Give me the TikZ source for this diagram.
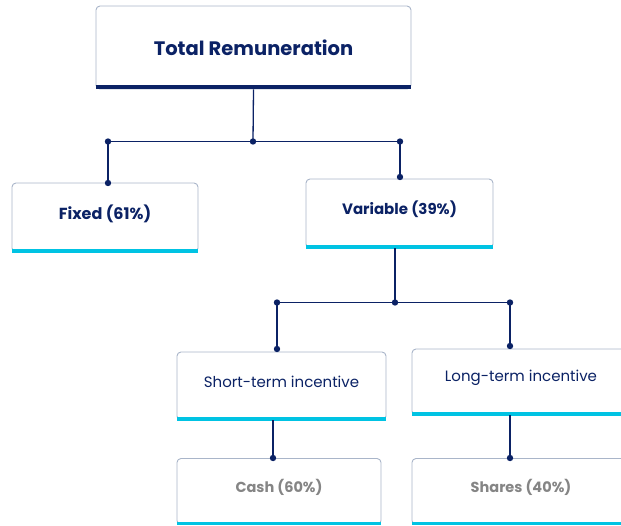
\documentclass[tikz,border=0pt]{standalone}
\usepackage{fontspec}
\setmainfont{Poppins}
\definecolor{navy}{HTML}{0B2265}
\definecolor{barcyan}{HTML}{00C3E3}
\definecolor{edgegray}{HTML}{A9B5C9}
\definecolor{mutedtxt}{HTML}{858585}
\tikzset{
  box/.style={draw=edgegray,line width=0.9pt,rounded corners=4pt,fill=white,inner sep=0pt},
  topbar/.style={navy,line width=4pt},
  cyanbar/.style={barcyan,line width=3.2pt},
  link/.style={navy,line width=1.3pt},
  dot/.style={navy},
  lbl/.style={text=navy,font=\fontsize{15}{18}\selectfont},
  lblb/.style={text=navy,font=\fontsize{15}{18}\selectfont\bfseries},
  lblg/.style={text=mutedtxt,font=\fontsize{14.5}{17}\selectfont\bfseries},
}
\begin{document}
\begin{tikzpicture}[x=1pt,y=-1pt]
  \path[use as bounding box,clip] (0,0) rectangle (621,525);

  % boxes
  \node[box,minimum width=315pt,minimum height=83pt] (total) at (253.5,47.5) {};
  \node[box,minimum width=186pt,minimum height=69pt] (fixed) at (105,217.5) {};
  \node[box,minimum width=187pt,minimum height=69pt] (var) at (399.5,213.5) {};
  \node[box,minimum width=209pt,minimum height=68pt] (short) at (281.5,386) {};
  \node[box,minimum width=218pt,minimum height=66pt] (long) at (521,382) {};
  \node[box,minimum width=204pt,minimum height=66pt] (cash) at (279,491.5) {};
  \node[box,minimum width=218pt,minimum height=66pt] (shares) at (521,491.5) {};

  % bottom bars
  \draw[topbar] ([yshift=2pt]total.south west)--([yshift=2pt]total.south east);
  \foreach \b in {fixed,var,short,long,cash,shares}
    \draw[cyanbar] ([yshift=1.5pt]\b.south west)--([yshift=1.5pt]\b.south east);

  % texts
  \node[lblb,font=\fontsize{19.5}{23}\selectfont\bfseries] (totalt) at ([yshift=-0.5pt]total.center) {Total Remuneration};
  \node[lblb,font=\fontsize{16}{19}\selectfont\bfseries] (fixedt) at ([yshift=4pt]fixed.center) {Fixed (61\%)};
  \node[lblb] (vart) at ([yshift=4pt]var.center) {Variable (39\%)};
  \node[lbl] (shortt) at ([yshift=4pt]short.center) {Short-term incentive};
  \node[lbl] (longt) at ([yshift=4pt]long.center) {Long-term incentive};
  \node[lblg] (casht) at ([yshift=4pt]cash.center) {Cash (60\%)};
  \node[lblg] (sharest) at ([yshift=4pt]shares.center) {Shares (40\%)};

  % junctions
  \coordinate (jtop) at (253,141.5);
  \coordinate (jfix) at (108,141.5);
  \coordinate (jvar) at (400,141.5);
  \coordinate (jmid) at (395,302.5);
  \coordinate (jst) at (277,302.5);
  \coordinate (jlt) at (510,302.5);
  \coordinate (efix) at (108,183);
  \coordinate (evar) at (400,177);
  \coordinate (est) at (277,349);
  \coordinate (elt) at (510,346);
  \coordinate (ecash) at (273,458);
  \coordinate (esh) at (510,458);

  % connectors
  \draw[link] (total.south)--(jtop);
  \draw[link] (jfix)--(jvar);
  \draw[link] (jfix)--(efix);
  \draw[link] (jvar)--(evar);
  \draw[link] (var.south -| jmid)--(jmid);
  \draw[link] (jst)--(jlt);
  \draw[link] (jst)--(est);
  \draw[link] (jlt)--(elt);
  \draw[link] (short.south -| ecash)--(ecash);
  \draw[link] (long.south -| esh)--(esh);

  \foreach \p in {jtop,jfix,jvar,efix,evar,jmid,jst,jlt,est,elt,ecash,esh}
    \fill[dot] (\p) circle (3.2pt);
\end{tikzpicture}
\end{document}
